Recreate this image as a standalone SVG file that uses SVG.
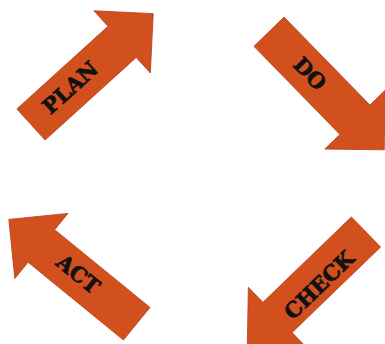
<svg xmlns="http://www.w3.org/2000/svg" width="385" height="344" viewBox="0 0 385 344">
<style>
.arrow{fill:#D2501E;stroke:#B8441A;stroke-width:0.8;stroke-linejoin:miter}
.lbl{font-family:"DejaVu Serif","Liberation Serif",serif;font-weight:bold;font-size:21px;fill:#111;stroke:#111;stroke-width:0.7;text-anchor:middle;dominant-baseline:central}
</style>
<defs>
<path id="arr" d="M0,-21 H123 V-42 L165,0 L123,42 V21 H0 Z"/>
</defs>
<rect width="385" height="344" fill="#fff"/>
<g id="plan">
<use href="#arr" class="arrow" transform="translate(31,124.5) rotate(-42.2)"/>
<text class="lbl" x="70" y="87.5" transform="rotate(-42.2 70 87.5)">PLAN</text>
</g>
<g id="do">
<use href="#arr" class="arrow" transform="translate(269,31.7) rotate(45.7)"/>
<text class="lbl" x="310" y="73.5" transform="rotate(45.7 310 73.5)">DO</text>
</g>
<g id="check">
<use href="#arr" class="arrow" transform="translate(366,232) rotate(136)"/>
<text class="lbl" x="319" y="285" transform="rotate(-44 319 285)">CHECK</text>
</g>
<g id="act">
<use href="#arr" class="arrow" transform="translate(136.7,323.7) rotate(219.2)"/>
<text class="lbl" x="78.3" y="274" transform="rotate(39.2 78.3 274)">ACT</text>
</g>
<g id="connectors"></g>
</svg>
